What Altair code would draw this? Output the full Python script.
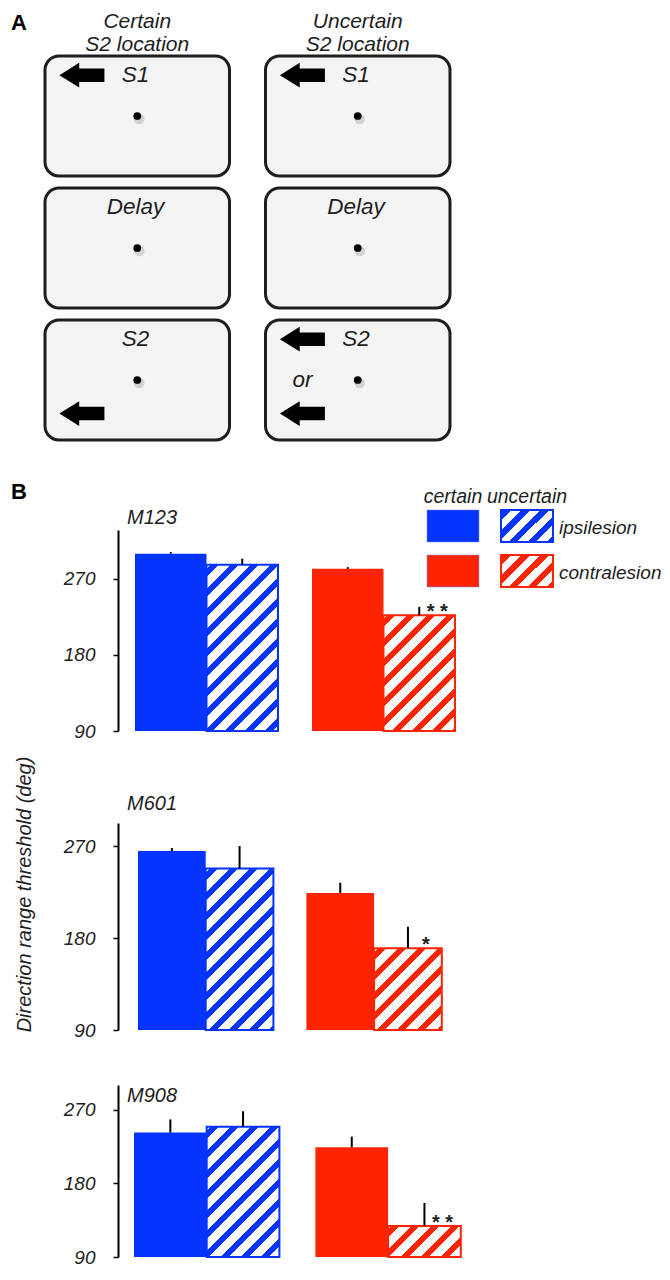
import json
import math
import altair as alt
import pandas as pd

# ---------------- Panel A : task schematic ----------------
columns = ["Certain\nS2 location", "Uncertain\nS2 location"]
epochs = ["S1", "Delay", "S2"]

box_text_col = [columns[0], columns[0], columns[0], columns[1], columns[1], columns[1], columns[1]]
box_text_row = ["S1", "Delay", "S2", "S1", "Delay", "S2", "S2"]
box_text_v = ["top", "top", "top", "top", "top", "top", "mid"]
box_text_h = ["mid", "mid", "mid", "mid", "mid", "mid", "left"]
box_text = ["S1", "Delay", "S2", "S1", "Delay", "S2", "or"]

arrow_col = [columns[0], columns[0], columns[1], columns[1], columns[1]]
arrow_row = ["S1", "S2", "S1", "S2", "S2"]
arrow_v = ["top", "bottom", "top", "top", "bottom"]
arrow_h = ["left", "left", "left", "left", "left"]

# ---------------- Panel B : thresholds ----------------
sides = ["ipsilesion", "contralesion"]
conditions = ["certain", "uncertain"]
bar_side = ["ipsilesion", "ipsilesion", "contralesion", "contralesion"]
bar_cond = ["certain", "uncertain", "certain", "uncertain"]

mean_m123 = [300, 287, 282, 227]
err_m123 = [2, 7, 2, 10]
sig_m123 = ["", "", "", "* *"]

mean_m601 = [265, 248, 224, 170]
err_m601 = [3, 22, 10, 21]
sig_m601 = ["", "", "", "*"]

mean_m908 = [242, 249, 224, 128]
err_m908 = [16, 19, 13, 28]
sig_m908 = ["", "", "", "* *"]

y_ticks = [90, 180, 270]

# ---------------- styling ----------------
FONT = "Liberation Sans"
INK = "#1e1e1e"
BLUE = "#0534ff"
RED = "#ff2400"
ARROW = "M-1,0L-0.12,-0.55L-0.12,-0.3L1,-0.3L1,0.3L-0.12,0.3L-0.12,0.55Z"
SPACING = 55


def hatch_fill(color, w, h, period=20.0, on=8.0, phase=4.0):
    """Diagonal '/' stripes as a hard-stop linear gradient (45 deg in pixels)."""
    L = w + h
    k = L / (w * w + h * h)

    def col_at(s):
        return color if ((s - phase) % period) < on else "white"

    cuts = []
    n = math.floor(-phase / period) - 1
    while phase + n * period <= L:
        for s in (phase + n * period, phase + n * period + on):
            if 0 < s < L:
                cuts.append(s)
        n += 1
    cuts.sort()
    stops = [alt.GradientStop(offset=0, color=col_at(0))]
    for s in cuts:
        t = round(s / L, 5)
        stops.append(alt.GradientStop(offset=t, color=col_at(s - 1e-6)))
        stops.append(alt.GradientStop(offset=t, color=col_at(s + 1e-6)))
    stops.append(alt.GradientStop(offset=1, color=col_at(L)))
    return alt.LinearGradient(gradient="linear", stops=stops, x1=0, y1=0,
                              x2=round(k * w, 5), y2=round(k * h, 5))


# ================= Panel A =================
GX, GY = 0.195, 0.1          # gaps between boxes, in box widths / heights
COLS_JS = json.dumps(columns)
ROWS_JS = json.dumps(epochs)


def place(ch):
    return ch.transform_calculate(
        ci=f"indexof({COLS_JS}, datum.col)",
        ri=f"indexof({ROWS_JS}, datum.row)",
    ).transform_calculate(
        x0=f"datum.ci * {1 + GX}", y0=f"datum.ri * {1 + GY}",
    ).transform_calculate(
        x1="datum.x0 + 1", y1="datum.y0 + 1",
        cx="datum.x0 + 0.5", cy="datum.y0 + 0.5",
        tx="datum.x0 + (datum.h == 'left' ? 0.2 : 0.49)",
        ty="datum.y0 + (datum.v == 'top' ? 0.16 : datum.v == 'mid' ? 0.5 : 0.78)",
    )


xsA = alt.Scale(domain=[0, 2 + GX], range=[-73, 332], nice=False, zero=False)
ysA = alt.Scale(domain=[0, 3 + 2 * GY], range=[3, 387], nice=False, zero=False)


def XA(f):
    return alt.X(f, type="quantitative", scale=xsA, axis=None)


def YA(f):
    return alt.Y(f, type="quantitative", scale=ysA, axis=None)


boxes_df = pd.DataFrame({"col": [c for c in columns for _ in epochs],
                         "row": [r for _ in columns for r in epochs],
                         "h": "mid", "v": "mid"})
text_df = pd.DataFrame({"col": box_text_col, "row": box_text_row,
                        "v": box_text_v, "h": box_text_h, "t": box_text})
arrow_df = pd.DataFrame({"col": arrow_col, "row": arrow_row, "v": arrow_v, "h": arrow_h})
title_df = pd.DataFrame({"col": columns, "row": epochs[0], "h": "mid", "v": "top"})

box_enc = dict(x=XA("x0"), x2="x1:Q", y=YA("y0"), y2="y1:Q")
# invisible frame corner that keeps a little headroom above the top texts
frame = alt.Chart(pd.DataFrame({"t": ["frame"]})).mark_rule(
    opacity=0, strokeWidth=1).encode(
    x=alt.value(-110), x2=alt.value(-100), y=alt.value(-44.5), y2=alt.value(-44.5))
shadow2 = place(alt.Chart(boxes_df)).mark_rect(
    cornerRadius=14, color="#8c8c8c", opacity=0.2, xOffset=5, yOffset=7).encode(**box_enc)
shadow = place(alt.Chart(boxes_df)).mark_rect(
    cornerRadius=14, color="#7c7c7c", opacity=0.45, xOffset=3, yOffset=4).encode(**box_enc)
boxes = place(alt.Chart(boxes_df)).mark_rect(
    cornerRadius=14, fill="#f4f4f4", stroke=INK, strokeWidth=3).encode(**box_enc)
dot_shadow = place(alt.Chart(boxes_df)).mark_circle(
    size=110, color="#a8a8a8", opacity=0.45, xOffset=2, yOffset=3).encode(x=XA("cx"), y=YA("cy"))
dots = place(alt.Chart(boxes_df)).mark_circle(size=60, color="black", opacity=1).encode(
    x=XA("cx"), y=YA("cy"))
texts = place(alt.Chart(text_df)).mark_text(
    font=FONT, fontSize=22.5, fontStyle="italic", color=INK, baseline="middle").encode(
    x=XA("tx"), y=YA("ty"), text="t:N")
arrows = place(alt.Chart(arrow_df)).mark_point(
    shape=ARROW, size=2025, filled=True, color="black", opacity=1, strokeWidth=0).encode(
    x=XA("tx"), y=YA("ty"))
titles = place(alt.Chart(title_df)).mark_text(
    font=FONT, fontSize=21, fontStyle="italic", color=INK, align="center",
    baseline="alphabetic", lineBreak="\n", lineHeight=23).encode(
    x=XA("cx"), y=alt.value(-25), text="col:N")
letterA = alt.Chart(pd.DataFrame({"t": ["A"]})).mark_text(
    align="left", baseline="alphabetic", font=FONT, fontSize=22, fontWeight="bold",
    color="black").encode(text="t:N", x=alt.value(-107), y=alt.value(-23))

panelA = alt.layer(frame, shadow2, shadow, boxes, dot_shadow, dots, texts, arrows, titles,
                   letterA).properties(width=352, height=384)


# ================= Panel B =================
def bar_panel(name, mean, err, sig, ymax, width, height, y_top, pad_left, bar_px, gap_px,
              label_y, legend=False, y_title=False):
    df = pd.DataFrame({"side": bar_side, "cond": bar_cond, "mean": mean, "err": err, "sig": sig})
    G = (2 * bar_px + gap_px) / bar_px
    xs = alt.Scale(domain=[-pad_left / bar_px, (width - pad_left) / bar_px], nice=False,
                   zero=False)
    ysc = alt.Scale(domain=[90, ymax], range=[height, y_top], zero=False, nice=False)
    axis_kw = dict(values=y_ticks, grid=False, domainColor="black", domainWidth=2,
                   tickColor="black", tickWidth=1.5, tickSize=5, labelFont=FONT,
                   labelFontSize=19, labelFontStyle="italic", labelColor=INK, labelPadding=18)
    if y_title:
        yaxis = alt.Axis(title="Direction range threshold  (deg)", titleFont=FONT,
                         titleFontSize=20, titleFontStyle="italic", titleFontWeight="normal",
                         titleColor=INK, titleX=-88, titleY=108, titleAngle=270,
                         titleAlign="center", titleBaseline="alphabetic", **axis_kw)
    else:
        yaxis = alt.Axis(title=None, **axis_kw)
    y = alt.Y("mean:Q", scale=ysc, axis=yaxis)
    x = alt.X("x0:Q", scale=xs, axis=alt.Axis(labels=False, ticks=False, grid=False,
                                              domainColor="black", domainWidth=2, title=None))
    color = alt.Color("side:N", scale=alt.Scale(domain=sides, range=[BLUE, RED]), legend=None)
    base = alt.Chart(df).transform_calculate(
        x0=f"(datum.side == 'contralesion' ? {G} : 0) + (datum.cond == 'uncertain' ? 1 : 0)",
        hi="datum.mean + datum.err",
    ).transform_calculate(x1="datum.x0 + 1", xm="datum.x0 + 0.5")

    solid = base.transform_filter("datum.cond == 'certain'").mark_rect().encode(
        x=x, x2="x1:Q", y=y, y2=alt.datum(90), color=color)

    px_per = (height - y_top) / (ymax - 90)
    hatched = []
    for s, colr in zip(sides, [BLUE, RED]):
        v = [mean[i] for i in range(4) if bar_side[i] == s and bar_cond[i] == "uncertain"][0]
        grad = hatch_fill(colr, bar_px, (v - 90) * px_per)
        hatched.append(
            base.transform_filter(f"datum.cond == 'uncertain' && datum.side == '{s}'")
            .mark_rect(fill=grad, stroke=colr, strokeWidth=2)
            .encode(x=x, x2="x1:Q", y=y, y2=alt.datum(90)))

    errs = base.mark_rule(color="black", strokeWidth=2).encode(
        x=alt.X("xm:Q", scale=xs, axis=None), y=y, y2="hi:Q")
    stars = base.transform_filter("datum.sig != ''").mark_text(
        font=FONT, fontSize=20, fontWeight="bold", color=INK, dx=18, dy=3,
        baseline="alphabetic").encode(
        x=alt.X("xm:Q", scale=xs, axis=None), y=y, text="sig:N")
    label = alt.Chart(pd.DataFrame({"m": [name]})).mark_text(
        align="left", baseline="alphabetic", font=FONT, fontSize=20, fontStyle="italic",
        color=INK).encode(text="m:N", x=alt.value(9), y=alt.value(label_y))

    layers = [solid] + hatched + [errs, stars, label]
    if legend:
        letterB = alt.Chart(pd.DataFrame({"t": ["B"]})).mark_text(
            align="left", baseline="alphabetic", font=FONT, fontSize=22, fontWeight="bold",
            color="black").encode(text="t:N", x=alt.value(-107), y=alt.value(7))
        layers.append(letterB)
    main = alt.layer(*layers)
    if not legend:
        return main.properties(width=width, height=height)

    # ----- legend (2 x 2 swatches) -----
    LGX, LGY = 22 / 52, 13 / 32
    lxs = alt.Scale(domain=[0, 2 + LGX], range=[309, 435], nice=False, zero=False)
    lys = alt.Scale(domain=[0, 2 + LGY], range=[18, 95], nice=False, zero=False)
    leg_df = pd.DataFrame({"side": [s for s in sides for _ in conditions],
                           "cond": [c for _ in sides for c in conditions]})
    lbase = alt.Chart(leg_df).transform_calculate(
        lx0=f"datum.cond == 'uncertain' ? {1 + LGX} : 0",
        ly0=f"datum.side == 'contralesion' ? {1 + LGY} : 0",
    ).transform_calculate(lx1="datum.lx0 + 1", ly1="datum.ly0 + 1",
                          lxm="datum.lx0 + 0.5", lym="datum.ly0 + 0.5")
    lenc = dict(x=alt.X("lx0:Q", scale=lxs, axis=None), x2="lx1:Q",
                y=alt.Y("ly0:Q", scale=lys, axis=None), y2="ly1:Q")
    lsolid = lbase.transform_filter("datum.cond == 'certain'").mark_rect(
        strokeWidth=1, stroke="#6f86ff", strokeOpacity=0.5).encode(color=color, **lenc)
    lhatch = []
    for s, colr in zip(sides, [BLUE, RED]):
        lhatch.append(
            lbase.transform_filter(f"datum.cond == 'uncertain' && datum.side == '{s}'")
            .mark_rect(fill=hatch_fill(colr, 52, 32, period=19.0, on=8.0, phase=2.0),
                       stroke=colr, strokeWidth=2)
            .encode(**lenc))
    head = lbase.transform_filter("datum.side == 'ipsilesion'").mark_text(
        font=FONT, fontSize=19.5, fontStyle="italic", color=INK, align="center",
        baseline="alphabetic").encode(
        x=alt.X("lxm:Q", scale=lxs, axis=None), y=alt.value(11), text="cond:N")
    rows = lbase.transform_filter("datum.cond == 'uncertain'").mark_text(
        font=FONT, fontSize=19, fontStyle="italic", color=INK, align="left",
        baseline="middle", dy=2).encode(
        x=alt.value(441), y=alt.Y("lym:Q", scale=lys, axis=None), text="side:N")
    leg = alt.layer(lsolid, *lhatch, head, rows)
    return alt.layer(main, leg).resolve_scale(x="independent", y="independent").properties(
        width=width, height=height)


p123 = bar_panel("M123", mean_m123, err_m123, sig_m123, ymax=328, width=352, height=239,
                 y_top=38, pad_left=17, bar_px=71.5, gap_px=34, label_y=32, legend=True)
p601 = bar_panel("M601", mean_m601, err_m601, sig_m601, ymax=292.5, width=339, height=244,
                 y_top=37, pad_left=20, bar_px=67.7, gap_px=33, label_y=24, y_title=True)
p908 = bar_panel("M908", mean_m908, err_m908, sig_m908, ymax=300, width=358, height=172,
                 y_top=0, pad_left=16, bar_px=72.7, gap_px=36, label_y=17)

chart = alt.vconcat(panelA, p123, p601, p908, spacing=SPACING, bounds="flush").properties(
    padding=0
).configure_view(stroke=None).configure_axis(labelFont=FONT, titleFont=FONT)

chart.save("out.html", embed_options={"renderer": "svg", "actions": False})
